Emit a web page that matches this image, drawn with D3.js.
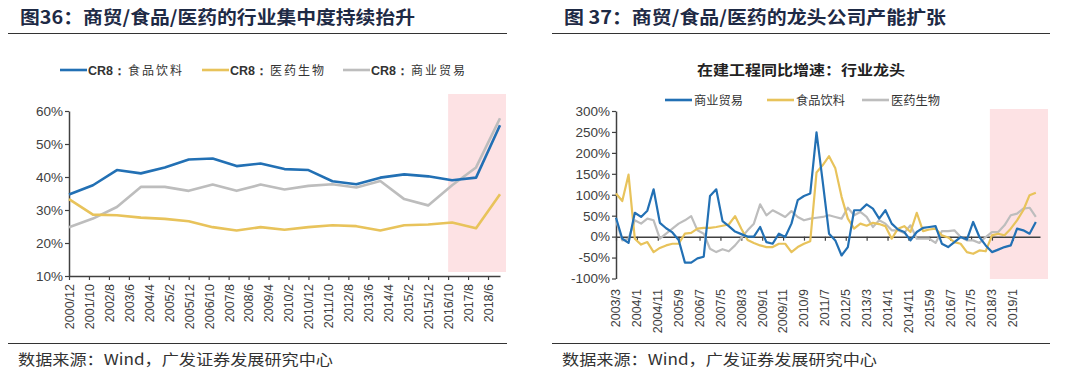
<!DOCTYPE html>
<html>
<head>
<meta charset="utf-8">
<script src="https://cdn.jsdelivr.net/npm/d3@7"></script>
<style>
  body { margin: 0; background: #fff; }
  svg { display: block; }
  text { font-family: "Liberation Sans", Arial, sans-serif; }
  .cjk { font-family: "Noto Sans CJK SC", sans-serif; }
</style>
</head>
<body>
<svg id="chart" width="1080" height="374"></svg>
<script>
// ---- left chart: CR8, year-end points 2000..2018
var cr8Dates = ["2000/12","2001/12","2002/12","2003/12","2004/12","2005/12","2006/12","2007/12","2008/12","2009/12",
                "2010/12","2011/12","2012/12","2013/12","2014/12","2015/12","2016/12","2017/12","2018/12"];
var cr8Food   = [34.7,37.5,42.1,41.1,42.9,45.3,45.6,43.3,44.1,42.4,42.1,38.7,37.8,39.8,40.8,40.2,39.0,39.8,55.7];
var cr8Pharma = [33.3,28.6,28.4,27.7,27.3,26.6,24.8,23.8,24.8,24.0,24.8,25.4,25.1,23.8,25.4,25.6,26.2,24.5,34.8];
var cr8Trade  = [24.8,27.4,30.9,37.0,37.0,35.8,37.7,35.8,37.7,36.2,37.3,37.8,36.8,38.8,33.3,31.4,37.5,42.9,57.8];
var leftTicks = ["2000/12","2001/10","2002/8","2003/6","2004/4","2005/2","2005/12","2006/10","2007/8","2008/6","2009/4",
                 "2010/2","2010/12","2011/10","2012/8","2013/6","2014/4","2015/2","2015/12","2016/10","2017/8","2018/6"];
var leftY = [10,20,30,40,50,60];
var leftHighlight = ["2016/10","2019/3"];

// ---- right chart: 在建工程同比增速, quarterly from 2003/3
var capexStart = "2003/3";
var capexTrade  = [45,-5,-15,57,47,62,113,33,20,10,-8,-62,-62,-52,-48,97,113,37,25,12,6,0,0,23,-13,-17,7,-1,31,87,
                   97,103,249,130,7,-9,-45,-25,63,63,77,67,43,63,31,17,11,-9,11,21,23,25,-17,-25,-13,-1,-7,35,-1,-21,
                   -37,-31,-25,-21,19,15,7,35];
var capexFood   = [103,85,148,-5,-19,-13,-37,-27,-21,-17,-17,7,9,19,21,21,23,26,29,49,19,-8,-15,-21,-25,-25,-17,-17,-37,-25,
                   -17,-11,153,171,192,163,95,43,19,31,26,33,30,25,-5,19,25,11,57,13,17,19,3,-2,-13,-17,-37,-41,-33,-35,
                   3,7,3,19,39,63,99,105];
var capexPharma = [39,-9,-5,39,31,43,39,-5,7,19,31,39,49,15,7,-29,-37,-30,-35,-21,-3,15,31,77,51,63,55,47,61,47,
                   39,43,45,47,51,47,43,69,51,59,47,23,39,31,15,15,9,27,-5,-5,-5,-15,13,13,15,-1,-9,-9,-15,-1,
                   11,11,27,51,55,67,69,47];
var rightTicks = ["2003/3","2004/1","2004/11","2005/9","2006/7","2007/5","2008/3","2009/1","2009/11","2010/9",
                  "2011/7","2012/5","2013/3","2014/1","2014/11","2015/9","2016/7","2017/5","2018/3","2019/1"];
var rightY = [-100,-50,0,50,100,150,200,250,300];
var rightHighlight = ["2018/2","2020/6"];

var BLUE = "#2270b4", GOLD = "#e8c35b", GREY = "#bdbdbd", PINK = "#fde2e4";
var TITLE = "#1e2a45", AXIS = "#404040", LABEL = "#404040";

var svg = d3.select("#chart");

function mIdx(s) { var p = s.split("/"); return (+p[0]) * 12 + (+p[1]); }

function header(x0, x1, title, titleLen, footer, footerLen) {
    svg.append("text").attr("class", "cjk").attr("x", x0 + 12).attr("y", 24)
        .attr("font-size", 18).attr("font-weight", "bold").attr("fill", TITLE)
        .attr("textLength", titleLen).attr("lengthAdjust", "spacingAndGlyphs").text(title);
    svg.append("line").attr("x1", x0).attr("x2", x1).attr("y1", 33.5).attr("y2", 33.5)
        .attr("stroke", "#333").attr("stroke-width", 1.2);
    svg.append("line").attr("x1", x0).attr("x2", x1).attr("y1", 343.5).attr("y2", 343.5)
        .attr("stroke", "#333").attr("stroke-width", 1.2);
    svg.append("text").attr("class", "cjk").attr("x", x0 + 10).attr("y", 365)
        .attr("font-size", 15).attr("fill", "#333")
        .attr("textLength", footerLen).attr("lengthAdjust", "spacingAndGlyphs").text(footer);
}

header(8, 507, "图36：商贸/食品/医药的行业集中度持续抬升", 395, "数据来源：Wind，广发证券发展研究中心", 315);
header(552, 1050, "图 37：商贸/食品/医药的龙头公司产能扩张", 382, "数据来源：Wind，广发证券发展研究中心", 315);

// ================= left chart =================
(function() {
    var m0 = mIdx("2000/12");
    var x = d3.scaleLinear().domain([0, 216]).range([69, 500]);
    var y = d3.scaleLinear().domain([10, 60]).range([276, 111]);
    var g = svg.append("g");

    g.append("rect")
        .attr("x", x(mIdx(leftHighlight[0]) - m0)).attr("y", 94)
        .attr("width", x(mIdx(leftHighlight[1]) - m0) - x(mIdx(leftHighlight[0]) - m0))
        .attr("height", 178).attr("fill", PINK);

    var yAxis = d3.axisLeft(y).tickValues(leftY).tickSize(4).tickSizeOuter(0)
        .tickFormat(function(d) { return d + "%"; });
    var ya = g.append("g").attr("transform", "translate(69,0)").call(yAxis);
    ya.select(".domain").attr("stroke", AXIS).attr("stroke-width", 1.5);
    ya.selectAll(".tick line").attr("stroke", AXIS).attr("stroke-width", 1.2);
    ya.selectAll("text").attr("font-size", 13.5).attr("fill", LABEL).attr("x", -6)
        .style("font-family", "Liberation Sans, Arial, sans-serif");

    var xAxis = d3.axisBottom(x).tickValues(leftTicks.map(function(t) { return mIdx(t) - m0; }))
        .tickSize(4).tickSizeOuter(0).tickFormat(function(d, i) { return leftTicks[i]; });
    var xa = g.append("g").attr("transform", "translate(0,276)").call(xAxis);
    xa.select(".domain").attr("stroke", AXIS).attr("stroke-width", 1.5);
    xa.selectAll(".tick line").attr("stroke", AXIS).attr("stroke-width", 1.2);
    xa.selectAll("text").attr("font-size", 12.5).attr("fill", LABEL)
        .attr("text-anchor", "end").attr("transform", "rotate(-90)")
        .attr("x", -8).attr("y", 0).attr("dy", "0.35em")
        .style("font-family", "Liberation Sans, Arial, sans-serif");

    var line = d3.line()
        .x(function(d, i) { return x(mIdx(cr8Dates[i]) - m0); })
        .y(function(d) { return y(d); });
    [[cr8Trade, GREY], [cr8Pharma, GOLD], [cr8Food, BLUE]].forEach(function(s) {
        g.append("path").datum(s[0]).attr("d", line).attr("fill", "none")
            .attr("stroke", s[1]).attr("stroke-width", 2.6).attr("stroke-linejoin", "round");
    });

    var legend = [["CR8：", "食品饮料", BLUE, 60], ["CR8：", "医药生物", GOLD, 202], ["CR8：", "商业贸易", GREY, 343]];
    legend.forEach(function(l) {
        g.append("line").attr("x1", l[3]).attr("x2", l[3] + 27).attr("y1", 70).attr("y2", 70)
            .attr("stroke", l[2]).attr("stroke-width", 2.6);
        var t = g.append("text").attr("x", l[3] + 28).attr("y", 74.5).attr("fill", "#333").attr("font-size", 12.5);
        t.append("tspan").attr("font-weight", "bold").text(l[0]);
        t.append("tspan").attr("class", "cjk").attr("font-size", 12).attr("dx", 2).attr("letter-spacing", 2).text(l[1]);
    });
})();

// ================= right chart =================
(function() {
    var m0 = mIdx(capexStart);
    var x = d3.scaleLinear().domain([0, 203]).range([616, 1040]);
    var y = d3.scaleLinear().domain([-100, 300]).range([278.5, 111]);
    var g = svg.append("g");

    var hx0 = x(mIdx(rightHighlight[0]) - m0);
    g.append("rect")
        .attr("x", hx0).attr("y", 109)
        .attr("width", Math.min(x(mIdx(rightHighlight[1]) - m0), 1048) - hx0)
        .attr("height", 170).attr("fill", PINK);

    var yAxis = d3.axisLeft(y).tickValues(rightY).tickSize(4).tickSizeOuter(0)
        .tickFormat(function(d) { return d + "%"; });
    var ya = g.append("g").attr("transform", "translate(616,0)").call(yAxis);
    ya.select(".domain").attr("stroke", AXIS).attr("stroke-width", 1.5);
    ya.selectAll(".tick line").attr("stroke", AXIS).attr("stroke-width", 1.2);
    ya.selectAll("text").attr("font-size", 13.5).attr("fill", LABEL).attr("x", -6)
        .style("font-family", "Liberation Sans, Arial, sans-serif");

    // axis line at 0%, labels hang below the plot area
    var tickPos = rightTicks.map(function(t) { return mIdx(t) - m0; });
    var xAxis = d3.axisBottom(x).tickValues(tickPos).tickSize(4).tickSizeOuter(0).tickFormat("");
    var xa = g.append("g").attr("transform", "translate(0," + y(0) + ")").call(xAxis);
    xa.select(".domain").attr("stroke", AXIS).attr("stroke-width", 1.5);
    xa.selectAll(".tick line").attr("stroke", AXIS).attr("stroke-width", 1.2);
    g.selectAll(".xlab").data(rightTicks).enter().append("text")
        .attr("transform", function(d, i) { return "translate(" + x(tickPos[i]) + ",289) rotate(-90)"; })
        .attr("text-anchor", "end").attr("dy", "0.35em")
        .attr("font-size", 12.5).attr("fill", LABEL).text(function(d) { return d; });

    var line = d3.line()
        .x(function(d, i) { return x(i * 3); })
        .y(function(d) { return y(d); });
    [[capexPharma, GREY], [capexFood, GOLD], [capexTrade, BLUE]].forEach(function(s) {
        g.append("path").datum(s[0]).attr("d", line).attr("fill", "none")
            .attr("stroke", s[1]).attr("stroke-width", 2.2).attr("stroke-linejoin", "round");
    });

    g.append("text").attr("class", "cjk").attr("x", 697).attr("y", 75)
        .attr("font-size", 14).attr("font-weight", "bold").attr("fill", "#222")
        .attr("textLength", 208).attr("lengthAdjust", "spacingAndGlyphs").text("在建工程同比增速：行业龙头");

    var legend = [["商业贸易", BLUE, 665], ["食品饮料", GOLD, 767], ["医药生物", GREY, 862]];
    legend.forEach(function(l) {
        g.append("line").attr("x1", l[2]).attr("x2", l[2] + 27).attr("y1", 100).attr("y2", 100)
            .attr("stroke", l[1]).attr("stroke-width", 2.6);
        g.append("text").attr("class", "cjk").attr("x", l[2] + 29).attr("y", 104.5)
            .attr("font-size", 12).attr("fill", "#333")
            .attr("textLength", 49).attr("lengthAdjust", "spacingAndGlyphs").text(l[0]);
    });
})();
</script>
</body>
</html>
